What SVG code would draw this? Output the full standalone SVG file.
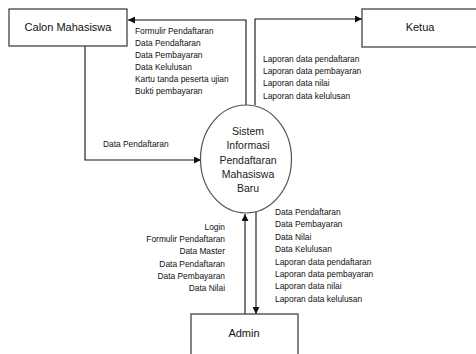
<svg xmlns="http://www.w3.org/2000/svg" width="476" height="354" viewBox="0 0 476 354">
<defs>
<style>
.box{fill:#fff;stroke:#444;stroke-width:1.3}
.proc{fill:#fff;stroke:#555;stroke-width:1.2}
.ln{fill:none;stroke:#111;stroke-width:1.1}
.t{font-family:"Liberation Sans",Arial,sans-serif;font-size:11px;fill:#111;text-anchor:middle}
.c{font-family:"Liberation Sans",Arial,sans-serif;font-size:10.5px;fill:#222;text-anchor:middle}
.s{font-family:"Liberation Sans",Arial,sans-serif;font-size:8.4px;fill:#111}
.r{text-anchor:end}
</style>
<marker id="ah" viewBox="0 0 10 10" refX="10" refY="5" markerWidth="7" markerHeight="7" orient="auto" markerUnits="userSpaceOnUse">
<path d="M0,0 L10,5 L0,10 z" fill="#111"/>
</marker>
</defs>
<rect width="476" height="354" fill="#fff"/>
<g id="connectors">
<path class="ln" d="M246,105 V20 H128" marker-end="url(#ah)"/>
<path class="ln" d="M255,105 V19 H362" marker-end="url(#ah)"/>
<path class="ln" d="M85,46 V160 H201" marker-end="url(#ah)"/>
<path class="ln" d="M245,314 V214" marker-end="url(#ah)"/>
<path class="ln" d="M256,212 V314" marker-end="url(#ah)"/>
<g class="s">
<text x="135" y="34">Formulir Pendaftaran</text>
<text x="135" y="46">Data Pendaftaran</text>
<text x="135" y="58">Data Pembayaran</text>
<text x="135" y="70">Data Kelulusan</text>
<text x="135" y="82">Kartu tanda peserta ujian</text>
<text x="135" y="94">Bukti pembayaran</text>
<text x="263" y="62">Laporan data pendaftaran</text>
<text x="263" y="74">Laporan data pembayaran</text>
<text x="263" y="86">Laporan data nilai</text>
<text x="263" y="99">Laporan data kelulusan</text>
<text x="103" y="147">Data Pendaftaran</text>
<text class="r" x="225" y="230">Login</text>
<text class="r" x="225" y="242">Formulir Pendaftaran</text>
<text class="r" x="225" y="254">Data Master</text>
<text class="r" x="225" y="267">Data Pendaftaran</text>
<text class="r" x="225" y="279">Data Pembayaran</text>
<text class="r" x="225" y="291">Data Nilai</text>
<text x="275" y="215">Data Pendaftaran</text>
<text x="275" y="227">Data Pembayaran</text>
<text x="275" y="240">Data Nilai</text>
<text x="275" y="252">Data Kelulusan</text>
<text x="275" y="265">Laporan data pendaftaran</text>
<text x="275" y="277">Laporan data pembayaran</text>
<text x="275" y="289">Laporan data nilai</text>
<text x="275" y="302">Laporan data kelulusan</text>
</g>
</g>
<g id="calon">
<rect class="box" x="9" y="9" width="118" height="37"/>
<text class="t" x="68" y="31">Calon Mahasiswa</text>
</g>
<g id="ketua">
<rect class="box" x="362" y="9" width="120" height="38"/>
<text class="t" x="420" y="31">Ketua</text>
</g>
<g id="sistem">
<ellipse class="proc" cx="246" cy="159" rx="45.5" ry="54"/>
<text class="c" x="248" y="135">Sistem</text>
<text class="c" x="248" y="149">Informasi</text>
<text class="c" x="248" y="164">Pendaftaran</text>
<text class="c" x="248" y="178">Mahasiswa</text>
<text class="c" x="248" y="192">Baru</text>
</g>
<g id="admin">
<rect class="box" x="191" y="314" width="107" height="50"/>
<text class="t" x="244" y="337">Admin</text>
</g>
</svg>
